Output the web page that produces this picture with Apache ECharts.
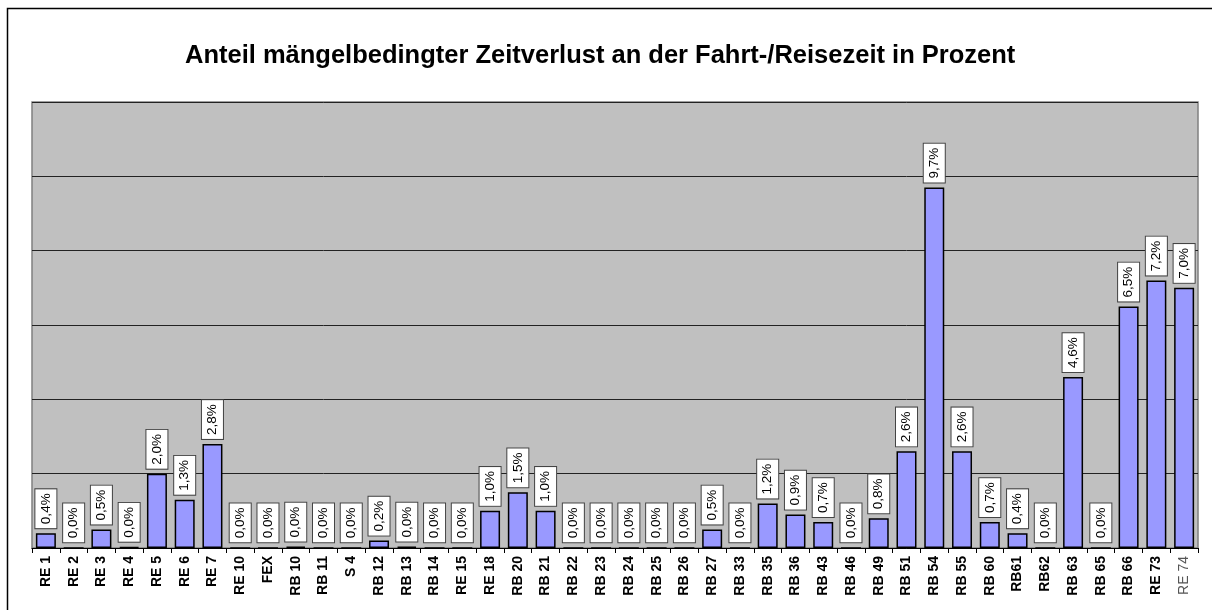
<!DOCTYPE html>
<html>
<head>
<meta charset="utf-8">
<script src="https://cdn.jsdelivr.net/npm/echarts@6/dist/echarts.min.js"></script>
<style>
  html, body { margin: 0; padding: 0; background: #fff; }
  #chart { width: 1212px; height: 610px; }
</style>
</head>
<body>
<div id="chart"></div>
<script>
  // Linien (Kategorien) und Zeitverlust in Prozent
  var linien = ['RE 1', 'RE 2', 'RE 3', 'RE 4', 'RE 5', 'RE 6', 'RE 7', 'RE 10', 'FEX', 'RB 10',
    'RB 11', 'S 4', 'RB 12', 'RB 13', 'RB 14', 'RE 15', 'RE 18', 'RB 20', 'RB 21', 'RB 22',
    'RB 23', 'RB 24', 'RB 25', 'RB 26', 'RB 27', 'RB 33', 'RB 35', 'RB 36', 'RB 43', 'RB 46',
    'RB 49', 'RB 51', 'RB 54', 'RB 55', 'RB 60', 'RB61', 'RB62', 'RB 63', 'RB 65', 'RB 66',
    'RE 73', 'RE 74'];
  var anteil = [0.4, 0, 0.5, 0.03, 2.0, 1.3, 2.8, 0, 0, 0.04,
    0, 0, 0.2, 0.04, 0, 0, 1.0, 1.5, 1.0, 0,
    0, 0, 0, 0, 0.5, 0, 1.2, 0.9, 0.7, 0,
    0.8, 2.6, 9.7, 2.6, 0.7, 0.4, 0, 4.6, 0, 6.5,
    7.2, 7.0];
  var titel = 'Anteil mängelbedingter Zeitverlust an der Fahrt-/Reisezeit in Prozent';

  var font = '"Liberation Sans", Arial, sans-serif';

  // letzte Beschriftung ist im Original nicht fett und grau
  var xData = linien.map(function (l, i) {
    if (i === linien.length - 1) {
      return { value: l, textStyle: { fontWeight: 'normal', color: '#555' } };
    }
    return l;
  });

  var chart = echarts.init(document.getElementById('chart'));
  chart.setOption({
    animation: false,
    textStyle: { fontFamily: font },
    title: {
      text: titel,
      left: 180,
      top: 38,
      textStyle: { fontFamily: font, fontSize: 25.5, fontWeight: 'bold', color: '#000' }
    },
    graphic: [{
      type: 'rect',
      shape: { x: 7.5, y: 8.5, width: 1220, height: 620 },
      style: { fill: 'none', stroke: '#000', lineWidth: 1.5 },
      silent: true
    }],
    grid: {
      left: 32, top: 102, width: 1166, height: 446,
      show: true,
      backgroundColor: '#c0c0c0',
      borderColor: '#808080',
      borderWidth: 1.5
    },
    xAxis: {
      type: 'category',
      data: xData,
      axisLine: { lineStyle: { color: '#000', width: 1 } },
      axisTick: { show: true, length: 5, lineStyle: { color: '#000' } },
      axisLabel: {
        interval: 0,
        rotate: 90,
        margin: 8,
        fontFamily: font,
        fontSize: 14,
        fontWeight: 'bold',
        color: '#000'
      }
    },
    yAxis: {
      type: 'value',
      min: 0,
      max: 12,
      interval: 2,
      axisLabel: { show: false },
      axisLine: { show: false },
      axisTick: { show: false },
      splitLine: { lineStyle: { color: '#222', width: 1 } }
    },
    series: [{
      type: 'bar',
      data: anteil,
      barCategoryGap: '28%',
      itemStyle: { color: '#9999ff', borderColor: '#000', borderWidth: 1.5 },
      label: {
        show: true,
        position: 'top',
        distance: 5,
        rotate: 90,
        align: 'left',
        verticalAlign: 'middle',
        fontFamily: font,
        fontSize: 13.5,
        color: '#000',
        backgroundColor: '#fff',
        borderColor: '#444',
        borderWidth: 1,
        padding: [4, 4, 3, 4],
        formatter: function (p) {
          return p.value.toFixed(1).replace('.', ',') + '%';
        }
      }
    }]
  });
</script>
</body>
</html>
